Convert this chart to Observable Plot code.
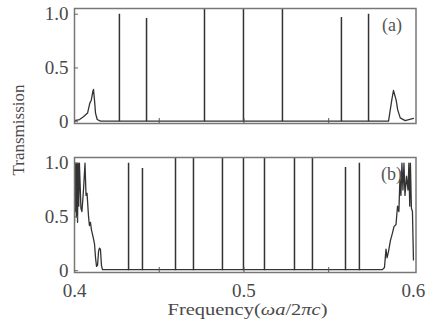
<!DOCTYPE html>
<html><head><meta charset="utf-8">
<script src="https://cdn.jsdelivr.net/npm/d3@7"></script>
<script src="https://cdn.jsdelivr.net/npm/@observablehq/plot@0.6"></script>
<style>body{margin:0;background:#fff} svg text{font-family:"Liberation Serif","Times New Roman",Times,serif;}</style>
</head><body><div id="chart"></div>
<script>
const panels = ["a", "b"];
const xTickValues = [0.4, 0.5, 0.6];
const xMinorTicks = [0.45, 0.5, 0.55];
const yTickValues = [0, 0.5, 1.0];
const yTickLabels = ["0", "0.5", "1.0"];

// Panel (a): smooth background curve (edge bumps + baseline)
const curveA_f = [0.4000, 0.4030, 0.4053, 0.4077, 0.4090, 0.4099, 0.4108, 0.4112, 0.4118, 0.4124, 0.4134, 0.4153,
                  0.5853, 0.5872, 0.5882, 0.5898, 0.5907, 0.5922, 0.5951, 0.6000];
const curveA_t = [0.01, 0.02, 0.045, 0.08, 0.17, 0.20, 0.28, 0.30, 0.20, 0.08, 0.02, 0.005,
                  0.005, 0.20, 0.29, 0.20, 0.11, 0.035, 0.01, 0.03];
// Panel (a): sharp resonances
const resA_f = [0.4265, 0.4425, 0.4767, 0.4997, 0.5227, 0.5575, 0.5735];
const resA_t = [1.0, 0.96, 1.06, 1.06, 1.06, 0.97, 1.0];

// Panel (b): background curve with oscillating band edges
const curveB_f = [0.4000, 0.4003, 0.4006, 0.4009, 0.4012, 0.4015, 0.4018, 0.4021, 0.4025, 0.4029, 0.4038, 0.4044,
                  0.4053, 0.4062, 0.4068, 0.4074, 0.4083, 0.4088, 0.4094, 0.4100, 0.4109, 0.4118, 0.4124, 0.4130,
                  0.4136, 0.4142, 0.4147, 0.4153, 0.4159, 0.4165,
                  0.5817, 0.5829, 0.5838, 0.5844, 0.5853, 0.5864, 0.5876, 0.5885, 0.5897, 0.5906, 0.5914, 0.5920,
                  0.5926, 0.5932, 0.5938, 0.5944, 0.5950, 0.5959, 0.5968, 0.5973, 0.5978, 0.5982, 0.5988, 0.5994, 0.6000];
const curveB_t = [0.45, 1.0, 0.55, 1.0, 0.5, 1.0, 0.45, 1.0, 0.6, 1.0, 0.58, 0.55,
                  0.75, 1.0, 0.70, 0.72, 0.50, 0.42, 0.45, 0.38, 0.32, 0.25, 0.12, 0.04,
                  0.05, 0.18, 0.21, 0.20, 0.05, 0.01,
                  0.01, 0.03, 0.20, 0.12, 0.18, 0.28, 0.35, 0.41, 0.43, 0.60, 0.55, 0.85,
                  0.70, 1.0, 0.75, 1.0, 0.70, 0.88, 0.75, 1.0, 0.60, 1.0, 0.58, 0.55, 0.10];
const resB_f = [0.4319, 0.4401, 0.4596, 0.4702, 0.4873, 0.4997, 0.5121, 0.5298, 0.5404, 0.5599, 0.5681];
const resB_t = [1.0, 0.95, 1.06, 1.06, 1.06, 1.06, 1.06, 1.06, 1.06, 0.96, 1.0];

const curve = [
  ...curveA_f.map((f, i) => ({panel: "a", f, t: curveA_t[i]})),
  ...curveB_f.map((f, i) => ({panel: "b", f, t: curveB_t[i]}))
];
const res = [
  ...resA_f.map((f, i) => ({panel: "a", f, t: resA_t[i]})),
  ...resB_f.map((f, i) => ({panel: "b", f, t: resB_t[i]}))
];

const ink = "#333";
const serif = "'Liberation Serif', 'Times New Roman', Times, serif";
const chart = Plot.plot({
  width: 427, height: 324,
  marginLeft: 74, marginRight: 11.5, marginTop: 7.5, marginBottom: 51.5,
  x: {domain: [0.4, 0.6015]},
  y: {domain: [-0.017, 1.053]},
  fy: {domain: panels, axis: null, paddingInner: 0.225, paddingOuter: 0},
  style: {fontFamily: serif, fontSize: "19px", color: "#4a4a4a", background: "#fff"},
  marks: [
    Plot.ruleX(res, {x: "f", y1: 0, y2: "t", fy: "panel", stroke: ink, strokeWidth: 1.5, clip: true}),
    Plot.line(curve, {x: "f", y: "t", fy: "panel", stroke: ink, strokeWidth: 1.3, clip: true}),
    Plot.frame({stroke: "#777", strokeWidth: 1.5}),
    Plot.axisY({ticks: yTickValues, tickFormat: (d, i) => yTickLabels[i], tickSize: -4, tickPadding: 10, label: null, stroke: "#666"}),
    Plot.axisX({ticks: xMinorTicks, tickFormat: () => "", tickSize: -5, label: null, facetAnchor: null, stroke: "#555"}),
    Plot.axisX({ticks: xTickValues, tickFormat: d => d.toFixed(1), tickSize: 0, tickPadding: 11, label: null}),
    Plot.text(panels, {fy: d => d, text: d => `(${d})`, frameAnchor: "top-right", dx: -14, dy: 10, fontSize: 18, fill: "#555"})
  ]
});
document.getElementById("chart").appendChild(chart);

const svg = d3.select(chart);
svg.append("text")
  .attr("transform", "translate(24,130) rotate(-90)")
  .attr("text-anchor", "middle")
  .attr("font-family", serif).attr("font-size", 17).attr("fill", "#4a4a4a")
  .text("Transmission");
const xl = svg.append("text")
  .attr("x", 247.5).attr("y", 315)
  .attr("text-anchor", "middle")
  .attr("font-family", serif).attr("font-size", 17).attr("fill", "#4a4a4a")
  .attr("textLength", 160).attr("lengthAdjust", "spacingAndGlyphs");
xl.append("tspan").text("Frequency(");
xl.append("tspan").attr("font-style", "italic").text("ωa");
xl.append("tspan").text("/2");
xl.append("tspan").attr("font-style", "italic").text("πc");
xl.append("tspan").text(")");
</script>
</body></html>
